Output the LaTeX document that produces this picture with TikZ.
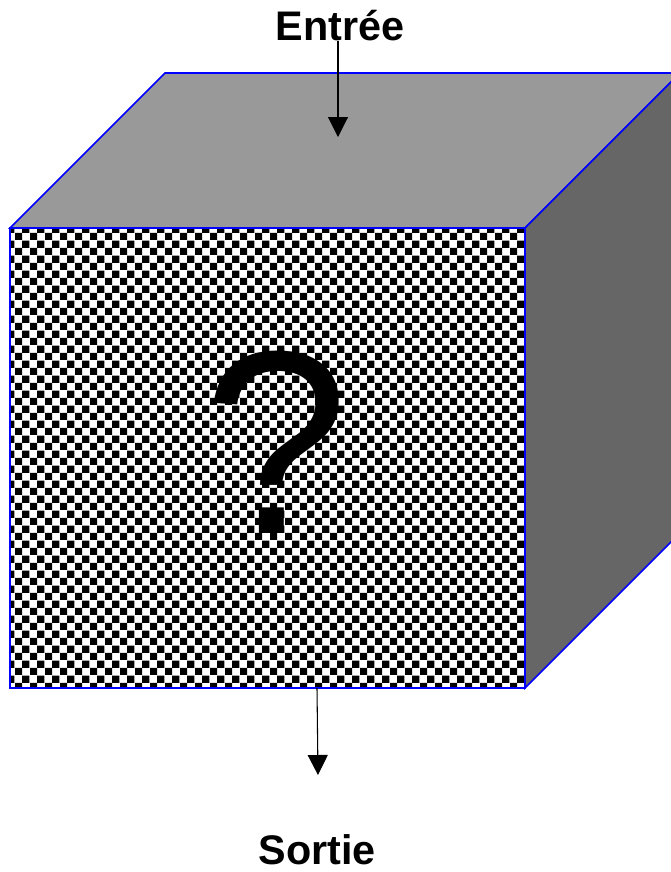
\documentclass[tikz,border=0pt]{standalone}
\usepackage{fontspec}
\setmainfont{Liberation Sans}
\usetikzlibrary{arrows.meta,patterns}

\begin{document}
\begin{tikzpicture}[x=0.75pt,y=-0.75pt,>={Triangle[length=15pt,width=15pt]},
 face/.style={draw=blue,line width=1.2pt,line join=miter},
 label/.style={font=\bfseries\fontsize{31}{31}\selectfont,inner sep=0pt},
 flow/.style={->,thick,black}]
\useasboundingbox (0,0) rectangle (671,872);
\clip (0,0) rectangle (671,872);
\fill[white] (0,0) rectangle (671,872);
\draw[face,fill=black!40] (10,228) -- (165,73) -- (680,73) -- (525,228) -- cycle;
\draw[face,fill=black!60] (525,228) -- (680,73) -- (680,533) -- (525,688) -- cycle;
\draw[face,pattern=checkerboard,pattern color=black,preaction={fill=white}] (10,228) rectangle (525,688);
\node[font=\fontsize{196}{196}\selectfont,inner sep=0pt,anchor=base] (mystery) at (276,533) {?};

\node[label,anchor=base] (entree) at (340,40) {Entrée};
\node[label,anchor=base] (sortie) at (317,864) {Sortie};
\coordinate (in) at (338,137);
\coordinate (outstart) at (317,688);
\coordinate (out) at (318,775);
\draw[flow] (entree.south -| in) -- (in);
\draw[flow] (outstart) -- (out);
\end{tikzpicture}
\end{document}
